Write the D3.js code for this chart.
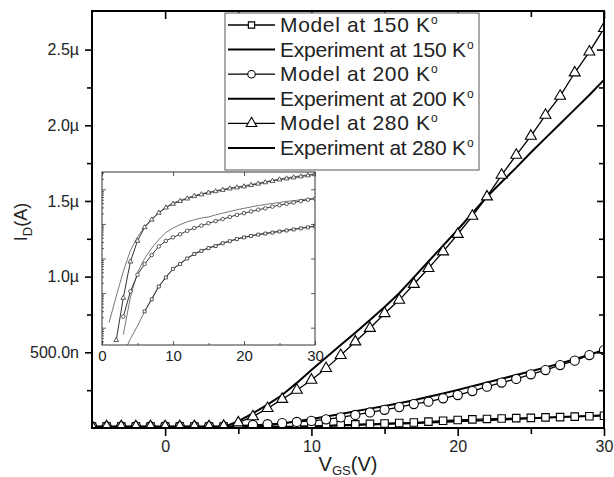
<!DOCTYPE html>
<html><head><meta charset="utf-8">
<script src="https://cdn.jsdelivr.net/npm/d3@7"></script>
<style>body{margin:0;background:#fff}text{font-family:"Liberation Sans",Arial,sans-serif}</style>
</head><body>
<svg id="c" width="614" height="477"></svg>
<script>
// ---------- main chart data (I_D in µA) ----------
const vgs = [-5,-4,-3,-2,-1,0,1,2,3,4,5,6,7,8,9,10,11,12,13,14,15,16,17,18,19,20,21,22,23,24,25,26,27,28,29,30];
const model150 = [0.01,0.01,0.01,0.01,0.01,0.01,0.01,0.01,0.01, 0.01,0.01,0.01,0.01,0.01,0.01,0.01,0.015,0.02,0.024,0.027,0.03,0.033,0.036,0.042,0.048,0.053,0.057,0.06,0.063,0.065,0.067,0.07,0.072,0.075,0.078,0.081];
const exp150   = [0,0,0,0,0,0,0,0,0, 0,0,0,0.002,0.005,0.008,0.011,0.014,0.017,0.02,0.023,0.026,0.029,0.032,0.036,0.04,0.044,0.048,0.052,0.056,0.06,0.064,0.068,0.072,0.076,0.08,0.085];
const model200 = [0.01,0.01,0.01,0.01,0.01,0.01,0.01,0.01,0.01, 0.01,0.015,0.02,0.025,0.032,0.04,0.047,0.057,0.07,0.086,0.103,0.12,0.138,0.158,0.174,0.196,0.218,0.244,0.273,0.30,0.324,0.355,0.383,0.416,0.445,0.482,0.515];
const exp200   = [0,0,0,0,0,0,0,0,0, 0,0.002,0.008,0.018,0.03,0.045,0.06,0.076,0.093,0.11,0.128,0.146,0.164,0.184,0.206,0.228,0.252,0.276,0.30,0.325,0.35,0.375,0.40,0.427,0.455,0.485,0.515];
const model280 = [0.01,0.01,0.01,0.01,0.01,0.01,0.01,0.01,0.01, 0.012,0.035,0.075,0.13,0.19,0.25,0.317,0.394,0.48,0.57,0.659,0.757,0.845,0.95,1.055,1.165,1.28,1.40,1.528,1.671,1.803,1.929,2.067,2.193,2.347,2.485,2.64];
const exp280   = [0,0,0,0,0,0,0,0,0, 0.005,0.045,0.097,0.155,0.218,0.298,0.383,0.466,0.548,0.63,0.713,0.80,0.89,0.995,1.10,1.205,1.31,1.42,1.528,1.625,1.72,1.82,1.915,2.01,2.105,2.20,2.30];
const yTickVals = [0.5,1.0,1.5,2.0,2.5];
const yTickLabels = ["500.0n","1.0µ","1.5µ","2.0µ","2.5µ"];
const xTickVals = [0,10,20,30];
const legendLabels = ["Model at 150 K","Experiment at 150 K","Model at 200 K","Experiment at 200 K","Model at 280 K","Experiment at 280 K"];

// ---------- inset data (arbitrary log-decade units) ----------
const insV280m = [2,3,4,5,6,7,8,9,10,11,12,13,14,15,16,17,18,19,20,21,22,23,24,25,26,27,28,29,30];
const insModel280 = [0.64,1.86,2.91,3.51,3.9,4.12,4.32,4.47,4.58,4.66,4.73,4.8,4.85,4.9,4.94,4.98,5.02,5.05,5.08,5.12,5.16,5.2,5.24,5.28,5.31,5.34,5.37,5.4,5.43];
const insV280e = [1,2,3,4,5,6,7,8,9,10,11,12,13,14,15,16,17,18,19,20,21,22,23,24,25,26,27,28,29,30];
const insExp280 = [1.15,1.9,2.63,3.23,3.62,3.92,4.14,4.33,4.48,4.6,4.68,4.75,4.82,4.87,4.92,4.96,5.0,5.04,5.07,5.1,5.14,5.18,5.22,5.26,5.3,5.33,5.36,5.39,5.42,5.45];
const insV200 = [3,4,5,6,7,8,9,10,11,12,13,14,15,16,17,18,19,20,21,22,23,24,25,26,27,28,29,30];
const insModel200 = [1.32,2.05,2.53,2.84,3.1,3.35,3.51,3.61,3.7,3.8,3.88,3.95,4.02,4.08,4.14,4.2,4.26,4.31,4.36,4.41,4.45,4.5,4.54,4.58,4.62,4.66,4.7,4.73];
const insExp200 = [0.8,1.88,2.6,3.0,3.3,3.55,3.75,3.88,3.98,4.06,4.12,4.17,4.2,4.26,4.31,4.36,4.41,4.45,4.49,4.53,4.56,4.59,4.62,4.65,4.67,4.7,4.72,4.74];
const insV150m = [6,7,8,9,10,11,12,13,14,15,16,17,18,19,20,21,22,23,24,25,26,27,28,29,30];
const insModel150 = [1.47,1.82,2.19,2.45,2.7,2.84,3.0,3.13,3.22,3.3,3.36,3.44,3.5,3.56,3.61,3.65,3.69,3.72,3.75,3.78,3.81,3.84,3.87,3.9,3.93];
const insV150e = [3.6,4,5,6,7,8,9,10,11,12,13,14,15,16,17,18,19,20,21,22,23,24,25,26,27,28,29,30];
const insExp150 = [0.5,0.68,1.05,1.47,1.84,2.2,2.47,2.7,2.86,3.01,3.14,3.23,3.31,3.38,3.45,3.51,3.57,3.62,3.66,3.7,3.73,3.76,3.79,3.82,3.85,3.88,3.91,3.94];
const insXTicks = [0,10,20,30];

// ---------- layout ----------
const svg = d3.select("#c");
const M = {l:92, r:604, t:11, b:428};
const x = d3.scaleLinear().domain([-5,30]).range([M.l,M.r]);
const y = d3.scaleLinear().domain([0,2.755]).range([M.b,M.t]);
const FONT = '"Liberation Sans",Arial,sans-serif';
const TXT = "#222";

svg.append("defs").append("clipPath").attr("id","clipMain")
  .append("rect").attr("x",M.l).attr("y",M.t).attr("width",M.r-M.l).attr("height",M.b-M.t);

const plot = svg.append("g").attr("clip-path","url(#clipMain)");
const line = (xs, ys, sx, sy) => d3.line().x((d,i)=>sx(xs[i])).y(d=>sy(d))(ys);

const sym = {
  sq: d3.symbol().type(d3.symbolSquare).size(56),
  ci: d3.symbol().type(d3.symbolCircle).size(66),
  tr: d3.symbol().type(d3.symbolTriangle).size(52)
};

// experiment lines
[exp150, exp200, exp280].forEach(s=>{
  plot.append("path").attr("d", line(vgs, s, x, y)).attr("fill","none").attr("stroke","#000").attr("stroke-width",2);
});
// model lines + markers
[[model150,"sq"],[model200,"ci"],[model280,"tr"]].forEach(([s,k])=>{
  plot.append("path").attr("d", line(vgs, s, x, y)).attr("fill","none").attr("stroke","#000").attr("stroke-width",1.3);
  plot.selectAll(null).data(s).enter().append("path")
    .attr("d", sym[k]())
    .attr("transform",(d,i)=>`translate(${x(vgs[i])},${y(d)})`)
    .attr("fill","#fff").attr("stroke","#000").attr("stroke-width",1.1);
});

// ---------- axes ----------
function styleAxis(g){
  g.select(".domain").remove();
  g.selectAll(".tick line").attr("stroke","#000").attr("stroke-width",1.6);
  g.selectAll(".tick text").attr("font-family",FONT).attr("font-size",16).attr("fill",TXT);
}
svg.append("g").attr("transform",`translate(${M.l},0)`)
  .call(d3.axisLeft(y).tickValues(yTickVals).tickFormat((d,i)=>yTickLabels[i]).tickSize(7).tickPadding(6)).call(styleAxis);
svg.append("g").attr("transform",`translate(${M.l},0)`)
  .call(d3.axisLeft(y).tickValues([0.25,0.75,1.25,1.75,2.25]).tickFormat("").tickSize(5)).call(styleAxis);
svg.append("g").attr("transform",`translate(0,${M.b})`)
  .call(d3.axisBottom(x).tickValues(xTickVals).tickFormat(d3.format("d")).tickSize(8).tickPadding(5)).call(styleAxis);
svg.append("g").attr("transform",`translate(0,${M.b})`)
  .call(d3.axisBottom(x).tickValues([5,15,25]).tickFormat("").tickSize(6)).call(styleAxis);
svg.append("g").attr("transform",`translate(0,${M.t})`)
  .call(d3.axisTop(x).tickValues(xTickVals).tickFormat("").tickSize(-8)).call(styleAxis);
svg.append("g").attr("transform",`translate(0,${M.t})`)
  .call(d3.axisTop(x).tickValues([5,15,25]).tickFormat("").tickSize(-6)).call(styleAxis);
svg.append("g").attr("transform",`translate(${M.r},0)`)
  .call(d3.axisRight(y).tickValues(yTickVals).tickFormat("").tickSize(-7)).call(styleAxis);
svg.append("g").attr("transform",`translate(${M.r},0)`)
  .call(d3.axisRight(y).tickValues([0.25,0.75,1.25,1.75,2.25]).tickFormat("").tickSize(-5)).call(styleAxis);
svg.append("rect").attr("x",M.l).attr("y",M.t).attr("width",M.r-M.l).attr("height",M.b-M.t)
  .attr("fill","none").attr("stroke","#000").attr("stroke-width",2);

// axis titles
const yt = svg.append("text").attr("transform","translate(27,222) rotate(-90)")
  .attr("text-anchor","middle").attr("font-family",FONT).attr("font-size",18).attr("fill",TXT);
yt.append("tspan").text("I");
yt.append("tspan").attr("font-size",13).attr("dy",5).text("D");
yt.append("tspan").attr("dy",-5).text("(A)");
const xt = svg.append("text").attr("x",348).attr("y",471)
  .attr("text-anchor","middle").attr("font-family",FONT).attr("font-size",20).attr("fill",TXT);
xt.append("tspan").text("V");
xt.append("tspan").attr("font-size",13).attr("dy",4).text("GS");
xt.append("tspan").attr("dy",-4).text("(V)");

// ---------- inset ----------
const I = {l:102, r:315, t:172, b:345};
const ix = d3.scaleLinear().domain([0,30]).range([I.l,I.r]);
const iy = d3.scaleLinear().domain([0.5,5.5]).range([I.b,I.t]);
svg.append("rect").attr("x",I.l).attr("y",I.t).attr("width",I.r-I.l).attr("height",I.b-I.t).attr("fill","#fff");
svg.append("defs").append("clipPath").attr("id","clipIns")
  .append("rect").attr("x",I.l).attr("y",I.t).attr("width",I.r-I.l).attr("height",I.b-I.t);
const ig = svg.append("g").attr("clip-path","url(#clipIns)");
[[insV280e,insExp280],[insV200,insExp200],[insV150e,insExp150]].forEach(([vs,s])=>{
  ig.append("path").attr("d", line(vs, s, ix, iy)).attr("fill","none").attr("stroke","#777").attr("stroke-width",1);
});
const isym = {
  sq: d3.symbol().type(d3.symbolSquare).size(9),
  ci: d3.symbol().type(d3.symbolCircle).size(10),
  tr: d3.symbol().type(d3.symbolTriangle).size(10)
};
[[insV150m,insModel150,"sq"],[insV200,insModel200,"ci"],[insV280m,insModel280,"tr"]].forEach(([vs,s,k])=>{
  ig.append("path").attr("d", line(vs, s, ix, iy)).attr("fill","none").attr("stroke","#333").attr("stroke-width",1);
  ig.selectAll(null).data(s).enter().append("path").attr("d", isym[k]())
    .attr("transform",(d,i)=>`translate(${ix(vs[i])},${iy(d)})`)
    .attr("fill","#fff").attr("stroke","#333").attr("stroke-width",0.8);
});
function styleIns(g){
  g.select(".domain").remove();
  g.selectAll(".tick line").attr("stroke","#333").attr("stroke-width",0.8);
  g.selectAll(".tick text").attr("font-family",FONT).attr("font-size",15).attr("fill",TXT);
}
svg.append("g").attr("transform",`translate(0,${I.b})`)
  .call(d3.axisBottom(ix).tickValues(insXTicks).tickFormat(d3.format("d")).tickSizeInner(-4).tickSizeOuter(0).tickPadding(5)).call(styleIns);
svg.append("g").attr("transform",`translate(0,${I.b})`)
  .call(d3.axisBottom(ix).tickValues([5,15,25]).tickFormat("").tickSizeInner(-2).tickSizeOuter(0)).call(styleIns);
svg.append("g").attr("transform",`translate(0,${I.t})`)
  .call(d3.axisTop(ix).tickValues(insXTicks).tickFormat("").tickSizeInner(-4).tickSizeOuter(0)).call(styleIns);
const decades = [1,2,3,4,5];
const minors = [];
[0,1,2,3,4,5].forEach(n=>[2,3,4,5,6,7,8,9].forEach(k=>{const v=n+Math.log10(k); if(v>0.5&&v<5.5) minors.push(v);}));
svg.append("g").attr("transform",`translate(${I.l},0)`)
  .call(d3.axisLeft(iy).tickValues(decades).tickFormat("").tickSizeInner(-4).tickSizeOuter(0)).call(styleIns);
svg.append("g").attr("transform",`translate(${I.l},0)`)
  .call(d3.axisLeft(iy).tickValues(minors).tickFormat("").tickSizeInner(-2).tickSizeOuter(0)).call(styleIns);
svg.append("g").attr("transform",`translate(${I.r},0)`)
  .call(d3.axisRight(iy).tickValues(decades).tickFormat("").tickSizeInner(-4).tickSizeOuter(0)).call(styleIns);
svg.append("rect").attr("x",I.l).attr("y",I.t).attr("width",I.r-I.l).attr("height",I.b-I.t)
  .attr("fill","none").attr("stroke","#333").attr("stroke-width",1);

// ---------- legend ----------
const L = {x:225, y:13, w:254, h:157};
const lg = svg.append("g");
lg.append("rect").attr("x",L.x).attr("y",L.y).attr("width",L.w).attr("height",L.h)
  .attr("fill","#fff").attr("stroke","#555").attr("stroke-width",1);
const legSym = ["sq",null,"ci",null,"tr",null];
const legSymSmall = {
  sq: d3.symbol().type(d3.symbolSquare).size(40),
  ci: d3.symbol().type(d3.symbolCircle).size(44),
  tr: d3.symbol().type(d3.symbolTriangle).size(48)
};
legendLabels.forEach((lab,i)=>{
  const cy = 25 + i*24.6;
  lg.append("line").attr("x1",228).attr("x2",275).attr("y1",cy).attr("y2",cy)
    .attr("stroke","#000").attr("stroke-width", legSym[i] ? 1.3 : 2);
  if(legSym[i]) lg.append("path").attr("d", legSymSmall[legSym[i]]()).attr("transform",`translate(251.5,${cy})`)
    .attr("fill","#fff").attr("stroke","#000").attr("stroke-width",1.1);
  const len = legSym[i] ? 150 : 186;
  lg.append("text").attr("x",280).attr("y",cy+7).attr("font-family",FONT).attr("font-size",21).attr("fill",TXT)
    .attr("textLength",len).attr("lengthAdjust","spacing").text(lab);
  lg.append("text").attr("x",281+len).attr("y",cy-1).attr("font-family",FONT).attr("font-size",12).attr("fill",TXT).text("o");
});
</script>
</body></html>
